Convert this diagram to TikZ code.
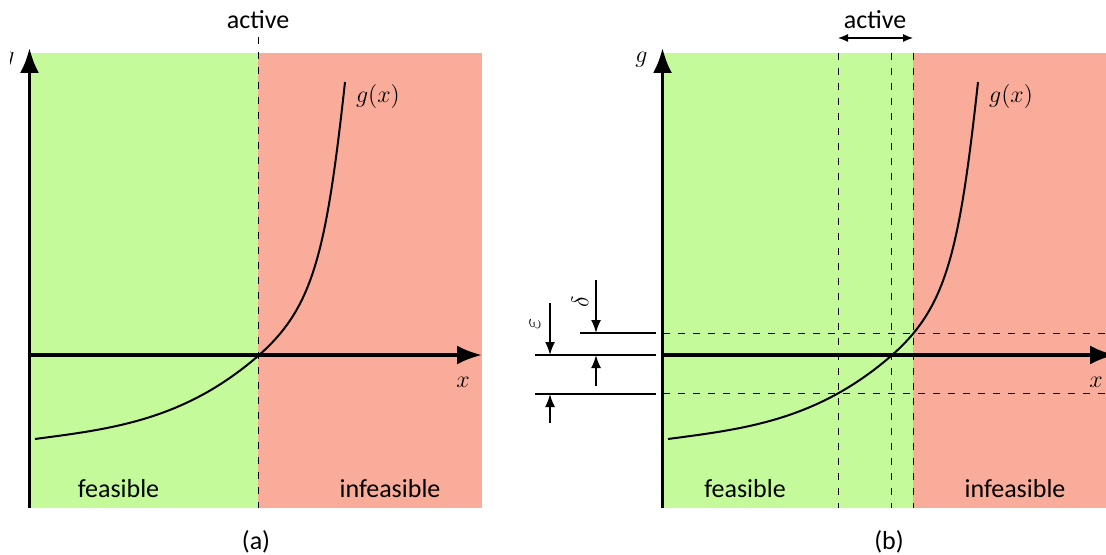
\documentclass[tikz,border=0pt]{standalone}
\usepackage{fontspec}
\setsansfont{Carlito}
\usetikzlibrary{arrows.meta}
\definecolor{feasgreen}{HTML}{C4FA9A}
\definecolor{infred}{HTML}{FAAC9A}

\begin{document}
\begin{tikzpicture}[x=0.5pt, y=-0.5pt,
    axis/.style={line width=1.7pt, -{Latex[length=12.5pt,width=9.5pt]}},
    curve/.style={line width=1pt},
    guide/.style={line width=0.5pt, dash pattern=on 3.5pt off 4pt},
    dimline/.style={line width=0.9pt},
    dimarrow/.style={line width=0.9pt, -{Latex[length=6.5pt,width=5pt]}},
    lbl/.style={font=\sffamily\fontsize{13}{15}\selectfont, inner sep=0pt},
    mathlbl/.style={font=\fontsize{11.5}{13}\selectfont, inner sep=0pt}
]
\useasboundingbox (0,0) rectangle (1106,555);

% (a) plain constraint
\begin{scope}
\clip (10,0) rectangle (540,555);
\fill[feasgreen] (29.5,53) rectangle (258,508);
\fill[infred] (258,53) rectangle (482,508);
\coordinate (acttop) at (258,37);
\coordinate (actbot) at (258,508);
\draw[guide] (acttop) -- (actbot);
\coordinate (ybot) at (29.5,508);
\coordinate (ytop) at (29.5,48);
\coordinate (xleft) at (29.5,355);
\coordinate (xright) at (482,355);
\draw[axis] (xleft) -- (xright);
\draw[axis] (ybot) -- (ytop);
\coordinate (gstart) at (35,439);
\coordinate (gzero) at (258,356);
\coordinate (gend) at (345,82);
\draw[curve] (gstart) .. controls (110,429) and (183,421) .. (gzero)
    .. controls (313,308) and (326,255) .. (gend);
\node[mathlbl] (glbl) at (8.5,60) {$g$};
\node[mathlbl] (xlbl) at (463,382) {$x$};
\node[mathlbl] (gxlbl) at (378,97) {$g(x)$};
\node[lbl] (act) at (258,20) {active};
\node[lbl] (feas) at (118.5,489) {feasible};
\node[lbl] (infeas) at (390,489) {infeasible};
\node[lbl] (capa) at (256,542) {(a)};
\end{scope}

% (b) relaxed constraint
\fill[feasgreen] (663,53) rectangle (913,508);
\fill[infred] (913,53) rectangle (1115,508);
\foreach \xx/\nm in {838/lo, 891/mid, 913/hi} {
  \coordinate (\nm top) at (\xx,53);
  \coordinate (\nm bot) at (\xx,508);
  \draw[guide] (\nm top) -- (\nm bot);
}
\foreach \yy/\nm in {333/dup, 393/eps} {
  \coordinate (\nm l) at (663,\yy);
  \coordinate (\nm r) at (1115,\yy);
  \draw[guide] (\nm l) -- (\nm r);
}
\coordinate (acta) at (838,38);
\coordinate (actb) at (913,38);
\draw[line width=0.6pt, {Latex[length=5pt,width=4pt]}-{Latex[length=5pt,width=4pt]}] (acta) -- (actb);
\node[lbl] (actb lbl) at (875,20) {active};
\begin{scope}[shift={(633,0)}]
\coordinate (ybot) at (29.5,508);
\coordinate (ytop) at (29.5,48);
\coordinate (xleft) at (29.5,355);
\coordinate (xright) at (482,355);
\draw[axis] (xleft) -- (xright);
\draw[axis] (ybot) -- (ytop);
\coordinate (gstart) at (35,439);
\coordinate (gzero) at (258,356);
\coordinate (gend) at (345,82);
\draw[curve] (gstart) .. controls (110,429) and (183,421) .. (gzero)
    .. controls (313,308) and (326,255) .. (gend);
\node[mathlbl] (glbl b) at (8.5,60) {$g$};
\node[mathlbl] (xlbl b) at (463,382) {$x$};
\node[mathlbl] (gxlbl b) at (378,97) {$g(x)$};
\node[lbl] (feas b) at (112,489) {feasible};
\node[lbl] (infeas b) at (382,489) {infeasible};
\node[lbl] (capb) at (256,542) {(b)};
\end{scope}

% tolerance marks
\coordinate (tdl) at (580,333);  \coordinate (tdr) at (656,333);
\coordinate (tzl) at (535,355);  \coordinate (tzr) at (656,355);
\coordinate (tel) at (535,394);  \coordinate (ter) at (656,394);
\draw[dimline] (tdl) -- (tdr);
\draw[dimline] (tzl) -- (tzr);
\draw[dimline] (tel) -- (ter);
\coordinate (d1) at (596,280);  \coordinate (d2) at (596,333);
\coordinate (d3) at (596,386);  \coordinate (d4) at (596,355);
\draw[dimarrow] (d1) -- (d2);
\draw[dimarrow] (d3) -- (d4);
\coordinate (e1) at (550,303);  \coordinate (e2) at (550,355);
\coordinate (e3) at (550,423);  \coordinate (e4) at (550,394);
\draw[dimarrow] (e1) -- (e2);
\draw[dimarrow] (e3) -- (e4);
\node[mathlbl, rotate=90] (dlbl) at (580,302) {$\delta$};
\node[mathlbl, rotate=90] (elbl) at (535,324) {$\varepsilon$};
\end{tikzpicture}
\end{document}
